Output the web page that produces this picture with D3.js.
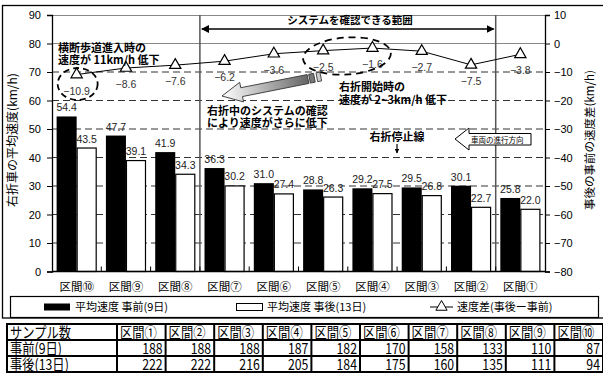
<!DOCTYPE html>
<html><head><meta charset="utf-8">
<script src="https://cdn.jsdelivr.net/npm/d3@7"></script>
<style>
html,body{margin:0;padding:0;background:#fff;}
svg{display:block;font-family:"Liberation Sans","Noto Sans CJK JP",sans-serif;}
</style></head>
<body>
<svg id="c" width="603" height="374"></svg>
<script>
// ---- data ----
const categories = ['区間⑩','区間⑨','区間⑧','区間⑦','区間⑥','区間⑤','区間④','区間③','区間②','区間①'];
const speedBefore = [54.4,47.7,41.9,36.3,31.0,28.8,29.2,29.5,30.1,25.8];
const speedAfter  = [43.5,39.1,34.3,30.2,27.4,26.3,27.5,26.8,22.7,22.0];
const speedDiff   = [-10.9,-8.6,-7.6,-6.2,-3.6,-2.5,-1.6,-2.7,-7.5,-3.8];
const leftTicks  = [0,10,20,30,40,50,60,70,80,90];
const rightTicks = [-80,-70,-60,-50,-40,-30,-20,-10,0,10];
const legendLabels = ['平均速度 事前(9日)','平均速度 事後(13日)','速度差(事後ー事前)'];
const tableHeader = 'サンプル数';
const tableSections = ['区間①','区間②','区間③','区間④','区間⑤','区間⑥','区間⑦','区間⑧','区間⑨','区間⑩'];
const tableRowNames = ['事前(9日)','事後(13日)'];
const sampleBefore = [188,188,188,187,182,170,158,133,110,87];
const sampleAfter  = [222,222,216,205,184,175,160,135,111,94];

const svg = d3.select('#c');
const L = 52, R = 545, T = 15, B = 271.5;
const x = d3.scaleBand().domain(categories).range([L,R]).paddingInner(0).paddingOuter(0);
const xs = d3.scaleBand().domain(['b','a']).range([0,x.bandwidth()]).paddingInner(0).paddingOuter(0.23);
const yL = d3.scaleLinear().domain([0,90]).range([B,T]);
const yR = d3.scaleLinear().domain([-80,10]).range([B,T]);
const cx = c => x(c) + x.bandwidth()/2;
const fmt = d3.format('.1f');

// outer frame
svg.append('rect').attr('x',2.5).attr('y',5.5).attr('width',610).attr('height',312.5)
  .attr('fill','none').attr('stroke','#000').attr('stroke-width',1.3);

// gridlines
leftTicks.filter(t=>t>0 && t<90).forEach(t=>{
  const g = svg.append('line').attr('x1',L).attr('x2',R).attr('y1',yL(t)).attr('y2',yL(t));
  if (t===80) g.attr('stroke','#888').attr('stroke-width',1);
  else g.attr('stroke','#333').attr('stroke-width',1).attr('stroke-dasharray','7,4');
});
// top border
svg.append('line').attr('x1',L).attr('x2',R).attr('y1',T+0.5).attr('y2',T+0.5).attr('stroke','#888');

// bars
const bars = categories.map((c,i)=>({c, b:speedBefore[i], a:speedAfter[i]}));
svg.selectAll('rect.bb').data(bars).join('rect').attr('class','bb')
  .attr('x',d=>x(d.c)+xs('b')).attr('width',xs.bandwidth())
  .attr('y',d=>yL(d.b)).attr('height',d=>B-yL(d.b)).attr('fill','#000');
svg.selectAll('rect.ba').data(bars).join('rect').attr('class','ba')
  .attr('x',d=>x(d.c)+xs('a')+0.5).attr('width',xs.bandwidth()-1)
  .attr('y',d=>yL(d.a)+0.5).attr('height',d=>B-yL(d.a)-0.5).attr('fill','#fff')
  .attr('stroke','#000').attr('stroke-width',1.2);

// separators
['区間⑦','区間①'].forEach(c=>{
  svg.append('line').attr('x1',x(c)).attr('x2',x(c)).attr('y1',T).attr('y2',B)
    .attr('stroke','#555').attr('stroke-width',1.5);
});

// axes
const ax = svg.append('g').attr('font-size',11);
const axL = ax.append('g').attr('transform',`translate(${L},0)`)
  .call(d3.axisLeft(yL).tickValues(leftTicks).tickSize(5).tickPadding(6).tickFormat(d3.format('d')));
const axR = ax.append('g').attr('transform',`translate(${R},0)`)
  .call(d3.axisRight(yR).tickValues(rightTicks).tickSize(5).tickPadding(4).tickFormat(d3.format('d')));
[axL,axR].forEach(a=>{
  a.select('.domain').attr('stroke','#000').attr('stroke-width',1.3);
  a.selectAll('text').attr('font-family','"Liberation Sans",sans-serif').attr('font-size',11).attr('fill','#000');
});
// x axis
svg.append('line').attr('x1',L).attr('x2',R).attr('y1',B).attr('y2',B).attr('stroke','#000').attr('stroke-width',1.5);
categories.slice(1).forEach(c=>{
  svg.append('line').attr('x1',x(c)).attr('x2',x(c)).attr('y1',B).attr('y2',B-5).attr('stroke','#000');
});
svg.selectAll('text.cat').data(categories).join('text').attr('class','cat')
  .attr('x',d=>cx(d)).attr('y',291).attr('text-anchor','middle')
  .attr('font-family','"Noto Sans CJK JP",sans-serif').attr('font-size',11.5).text(d=>d);

// axis titles
svg.append('text').attr('transform','translate(17,140) rotate(-90)').attr('text-anchor','middle')
  .attr('font-family','"Noto Sans CJK JP",sans-serif').attr('font-size',12).text('右折車の平均速度(km/h)');
svg.append('text').attr('transform','translate(594,140) rotate(-90)').attr('text-anchor','middle')
  .attr('font-family','"Noto Sans CJK JP",sans-serif').attr('font-size',11.5).text('事後の事前の速度差(km/h)');

// bar labels
svg.selectAll('text.lb').data(bars).join('text').attr('class','lb')
  .attr('x',d=>x(d.c)+xs('b')+xs.bandwidth()/2).attr('y',d=>yL(d.b)-5)
  .attr('text-anchor','middle').attr('font-size',10.5).attr('fill','#222').text(d=>fmt(d.b));
svg.selectAll('text.la').data(bars).join('text').attr('class','la')
  .attr('x',d=>x(d.c)+xs('a')+xs.bandwidth()/2).attr('y',d=>yL(d.a)-5)
  .attr('text-anchor','middle').attr('font-size',10.5).attr('fill','#222').text(d=>fmt(d.a));

// diff line
const diffs = categories.map((c,i)=>({c, v:speedDiff[i]}));
svg.append('path').datum(diffs)
  .attr('d',d3.line().x(d=>cx(d.c)).y(d=>yR(d.v)))
  .attr('fill','none').attr('stroke','#000').attr('stroke-width',1);
const tri = d3.symbol().type(d3.symbolTriangle).size(55);
svg.selectAll('path.tri').data(diffs).join('path').attr('class','tri')
  .attr('transform',d=>`translate(${cx(d.c)},${yR(d.v)})`).attr('d',tri)
  .attr('fill','#fff').attr('stroke','#000').attr('stroke-width',1.2);
svg.selectAll('text.ld').data(diffs).join('text').attr('class','ld')
  .attr('x',d=>cx(d.c)).attr('y',d=>yR(d.v)+20).attr('text-anchor','middle')
  .attr('font-size',10.5).attr('fill','#333').text(d=>fmt(d.v));

// ---- annotations ----
const bold = (t,x0,y0,size=11,anchor='start')=>svg.append('text').attr('x',x0).attr('y',y0)
  .attr('font-family','"Noto Sans CJK JP",sans-serif').attr('font-weight','bold')
  .attr('font-size',size).attr('text-anchor',anchor).text(t);

// double arrow: system range
const defs = svg.append('defs');
defs.append('marker').attr('id','ah').attr('viewBox','0 0 10 10').attr('refX',9).attr('refY',5)
  .attr('markerWidth',8).attr('markerHeight',8).attr('markerUnits','userSpaceOnUse').attr('orient','auto-start-reverse')
  .append('path').attr('d','M0,0L10,5L0,10Z').attr('fill','#000');
svg.append('line').attr('x1',x('区間⑦')+2).attr('x2',x('区間①')-2).attr('y1',29).attr('y2',29)
  .attr('stroke','#000').attr('stroke-width',1.5).attr('marker-start','url(#ah)').attr('marker-end','url(#ah)');
bold('システムを確認できる範囲',350,24,10.5,'middle');

// left annotation
bold('横断歩道進入時の',58,52);
bold('速度が 11km/h 低下',58,64);
svg.append('ellipse').attr('cx',cx('区間⑩')+1).attr('cy',84).attr('rx',20).attr('ry',16)
  .attr('fill','none').attr('stroke','#000').attr('stroke-width',1.8).attr('stroke-dasharray','6,4');

// right-turn start annotation
svg.append('ellipse').attr('cx',347).attr('cy',56).attr('rx',44).attr('ry',18.5)
  .attr('transform','rotate(-4,347,56)')
  .attr('fill','none').attr('stroke','#000').attr('stroke-width',1.8).attr('stroke-dasharray','7,5');
bold('右折開始時の',339,91);
bold('速度が 2~3km/h 低下',339,104);

// gradient arrow
const grad = defs.append('linearGradient').attr('id','g1').attr('gradientUnits','userSpaceOnUse')
  .attr('x1',222).attr('y1',96).attr('x2',308).attr('y2',79);
grad.append('stop').attr('offset',0).attr('stop-color','#fff');
grad.append('stop').attr('offset',1).attr('stop-color','#666');
(function(){
  const tip=[222,96], tail=[308,79];
  const dx=tip[0]-tail[0], dy=tip[1]-tail[1], len=Math.hypot(dx,dy);
  const u=[dx/len,dy/len], n=[-u[1],u[0]];
  const hl=20, w=4.5, hw=10;
  const base=[tip[0]-u[0]*hl, tip[1]-u[1]*hl];
  const P=(p,k)=>[p[0]+n[0]*k, p[1]+n[1]*k];
  const pts=[P(tail,w),P(base,w),P(base,hw),tip,P(base,-hw),P(base,-w),P(tail,-w)];
  svg.append('polygon').attr('points',pts.map(p=>p.join(',')).join(' '))
    .attr('fill','url(#g1)').attr('stroke','#444').attr('stroke-width',1);
  const ang=Math.atan2(dy,dx)*180/Math.PI;
  [[4,5,'#777'],[11,4,'#ccc']].forEach(([off,l,f])=>{
    const c=[tail[0]-u[0]*off, tail[1]-u[1]*off];
    svg.append('rect').attr('x',-l/2).attr('y',-w).attr('width',l).attr('height',2*w)
      .attr('transform',`translate(${c[0]},${c[1]}) rotate(${ang})`)
      .attr('fill',f).attr('stroke','#333').attr('stroke-width',0.8);
  });
})();
bold('右折中のシステムの確認',207,115);
bold('により速度がさらに低下',207,127);

// stop line
bold('右折停止線',397,141,11,'middle');
defs.append('marker').attr('id','ah2').attr('viewBox','0 0 10 10').attr('refX',9).attr('refY',5)
  .attr('markerWidth',5).attr('markerHeight',5).attr('markerUnits','userSpaceOnUse').attr('orient','auto')
  .append('path').attr('d','M0,0L10,5L0,10Z').attr('fill','#000');
svg.append('line').attr('x1',397).attr('x2',397).attr('y1',144).attr('y2',153)
  .attr('stroke','#000').attr('stroke-width',1.2).attr('marker-end','url(#ah2)');

// direction arrow
svg.append('path').attr('d','M455,139 L469,128 L469,133.5 L531,133.5 L531,145 L469,145 L469,150 Z')
  .attr('fill','#fff').attr('stroke','#000').attr('stroke-width',1);
svg.append('text').attr('x',471).attr('y',142.5).attr('font-family','"Noto Sans CJK JP",sans-serif')
  .attr('font-size',7.5).text('車両の進行方向');

// ---- legend ----
svg.append('rect').attr('x',10.5).attr('y',296.5).attr('width',588).attr('height',21)
  .attr('fill','#fff').attr('stroke','#000').attr('stroke-width',1.2);
const lg = svg.append('g').attr('font-family','"Noto Sans CJK JP",sans-serif').attr('font-size',11);
lg.append('rect').attr('x',44).attr('y',303.5).attr('width',26).attr('height',7).attr('fill','#000');
lg.append('text').attr('x',75).attr('y',311).text(legendLabels[0]);
lg.append('rect').attr('x',236.5).attr('y',303.5).attr('width',26).attr('height',7).attr('fill','#fff').attr('stroke','#000');
lg.append('text').attr('x',267).attr('y',311).text(legendLabels[1]);
lg.append('line').attr('x1',430).attr('x2',453).attr('y1',307).attr('y2',307).attr('stroke','#000');
lg.append('path').attr('transform','translate(441.5,307)').attr('d',tri).attr('fill','#fff').attr('stroke','#000');
lg.append('text').attr('x',457).attr('y',311).text(legendLabels[2]);

// ---- table ----
const tx0=7, tx1=117, tcw=(603-117)/10, ty=[324,340,356,372];
const tg = svg.append('g').attr('font-family','"Noto Sans CJK JP",sans-serif').attr('font-size',15);
tg.append('rect').attr('x',tx0).attr('y',ty[0]).attr('width',603-tx0+2).attr('height',ty[3]-ty[0])
  .attr('fill','#fff').attr('stroke','#000').attr('stroke-width',2);
[ty[1],ty[2]].forEach(yy=>tg.append('line').attr('x1',tx0).attr('x2',603).attr('y1',yy).attr('y2',yy).attr('stroke','#000').attr('stroke-width',2));
d3.range(11).forEach(i=>{const xx=tx1+i*tcw; tg.append('line').attr('x1',xx).attr('x2',xx).attr('y1',ty[0]).attr('y2',ty[3]).attr('stroke','#000').attr('stroke-width',2);});
const ttext=(t,x0,y0,anchor='start')=>tg.append('text')
  .attr('transform',`translate(${x0},${y0}) scale(0.82,1)`).attr('text-anchor',anchor).text(t);
ttext(tableHeader,tx0+3,ty[1]-2.5);
tableRowNames.forEach((r,i)=>ttext(r,tx0+3,ty[i+2]-2.5));
tableSections.forEach((s,i)=>ttext(s,tx1+i*tcw+3,ty[1]-2.5));
[sampleBefore,sampleAfter].forEach((row,r)=>row.forEach((v,i)=>
  ttext(v,tx1+(i+1)*tcw-3,ty[r+2]-2.5,'end')));
</script>
</body></html>
